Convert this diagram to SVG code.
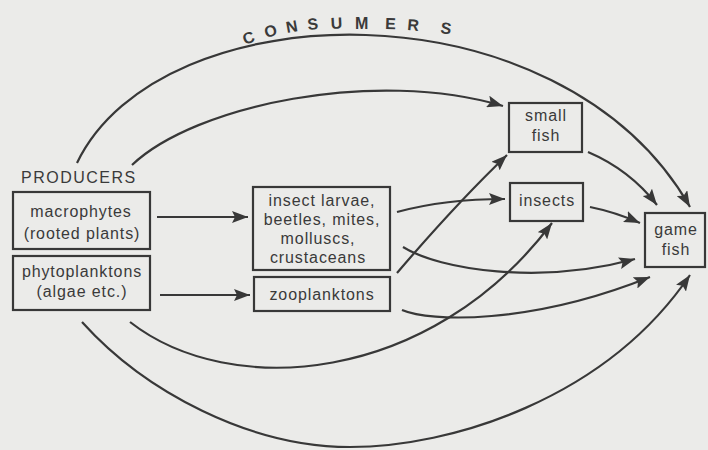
<svg xmlns="http://www.w3.org/2000/svg" width="708" height="450" viewBox="0 0 708 450">
  <style>
    .bg { fill: #ebebe9; }
    .box { fill: none; stroke: #383838; stroke-width: 2.2; }
    .lbl { font-family: "Liberation Sans", Arial, sans-serif; font-size: 16px; fill: #3a3a3a; text-anchor: middle; letter-spacing: 0.9px; }
    .head { font-family: "Liberation Sans", Arial, sans-serif; font-size: 16px; fill: #3a3a3a; letter-spacing: 1.5px; }
    .cons { font-family: "Liberation Sans", Arial, sans-serif; font-size: 16px; font-weight: bold; fill: #3a3a3a; }
    .conn path { fill: none; stroke: #383838; stroke-width: 2.2; }
    .arr { marker-end: url(#ah); }
  </style>
  <defs>
    <marker id="ah" markerUnits="userSpaceOnUse" markerWidth="18" markerHeight="12" refX="16" refY="6" orient="auto">
      <path d="M0,0 L16,6 L0,12 L3,6 z" fill="#383838"/>
    </marker>
  </defs>
  <rect class="bg" x="0" y="0" width="708" height="450"/>

  <g id="connectors" class="conn">
    <path class="arr" d="M77,163 C160,-10 560,-20 690,207"/>
    <path class="arr" d="M132,165 C195,105 375,68 503,106"/>
    <path class="arr" d="M157,217 L248,217"/>
    <path class="arr" d="M160,295 L250,295"/>
    <path class="arr" d="M397,212 Q445,199 505,199"/>
    <path class="arr" d="M403,247 C440,270 540,285 635,259"/>
    <path class="arr" d="M397,273 Q455,205 507,155"/>
    <path class="arr" d="M402,310 C430,322 530,325 650,277"/>
    <path class="arr" d="M130,322 C230,400 430,385 552,223"/>
    <path class="arr" d="M82,322 C145,392 250,447 350,447 C450,447 605,400 690,275"/>
    <path class="arr" d="M588,152 Q630,170 657,205"/>
    <path class="arr" d="M590,207 Q615,212 640,223"/>
  </g>

  <g id="consumers-label">
    <text class="cons" x="245 266 287 308 331 355 385 407 440" y="45 38 33 30 29 29 29 30 33" rotate="-20 -15 -10 -6 -3 0 2 5 8">CONSUMERS</text>
  </g>

  <g id="producers-label">
    <text class="head" x="21" y="183">PRODUCERS</text>
  </g>

  <g id="macrophytes">
    <rect class="box" x="13" y="192" width="137" height="57"/>
    <text class="lbl" x="81" y="217">macrophytes</text>
    <text class="lbl" x="82" y="239">(rooted plants)</text>
  </g>

  <g id="phytoplanktons">
    <rect class="box" x="13" y="256" width="137" height="54"/>
    <text class="lbl" x="82" y="277">phytoplanktons</text>
    <text class="lbl" x="82" y="297">(algae etc.)</text>
  </g>

  <g id="insect-larvae">
    <rect class="box" x="253" y="187" width="137" height="83"/>
    <text class="lbl" x="322" y="206">insect larvae,</text>
    <text class="lbl" x="322" y="225">beetles, mites,</text>
    <text class="lbl" x="318" y="244">molluscs,</text>
    <text class="lbl" x="318" y="263">crustaceans</text>
  </g>

  <g id="zooplanktons">
    <rect class="box" x="254" y="277" width="136" height="34"/>
    <text class="lbl" x="322" y="300">zooplanktons</text>
  </g>

  <g id="small-fish">
    <rect class="box" x="509" y="103" width="73" height="49"/>
    <text class="lbl" x="546" y="121">small</text>
    <text class="lbl" x="546" y="141">fish</text>
  </g>

  <g id="insects">
    <rect class="box" x="510" y="183" width="73" height="38"/>
    <text class="lbl" x="547" y="206">insects</text>
  </g>

  <g id="game-fish">
    <rect class="box" x="645" y="213" width="60" height="54"/>
    <text class="lbl" x="676" y="235">game</text>
    <text class="lbl" x="676" y="255">fish</text>
  </g>
</svg>
